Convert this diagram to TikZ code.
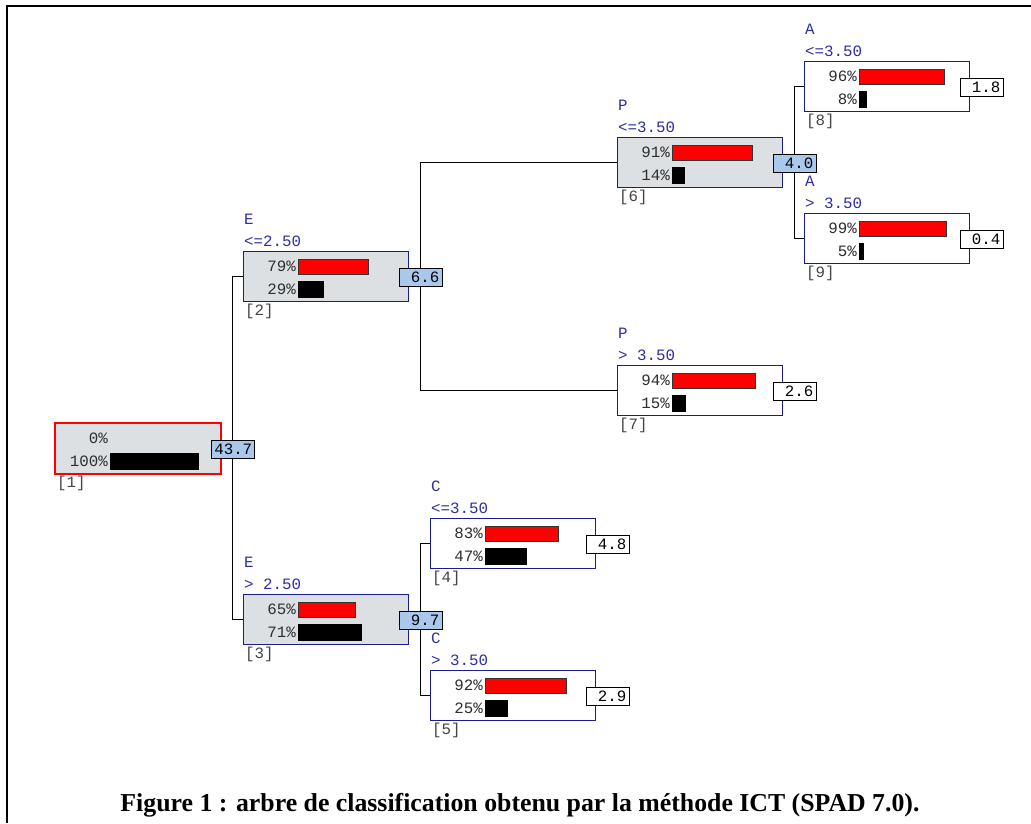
\documentclass[tikz,border=0pt]{standalone}
\usepackage{fontspec}
\setmainfont{Liberation Serif}
\newfontfamily\monof{Liberation Mono}
\usetikzlibrary{backgrounds}
\definecolor{boxgray}{HTML}{DDE0E3}
\definecolor{valblue}{HTML}{A9C8EC}
\definecolor{navy}{HTML}{1C1C8C}
\definecolor{condblue}{HTML}{2E2EA0}
\definecolor{txtgray}{HTML}{2E2E2E}
\definecolor{idgray}{HTML}{444444}
\definecolor{barred}{HTML}{FF0000}
\definecolor{boxred}{HTML}{FF0000}
\tikzset{
  mono/.style={font=\monof\fontsize{15.8}{18}\selectfont, inner sep=0pt},
  tbox/.style={line width=1.3pt, minimum width=165, minimum height=50, inner sep=0pt, anchor=north west},
  condtxt/.style={mono, text=condblue, anchor=base west},
  pcttxt/.style={mono, text=txtgray, anchor=base east},
  idtxt/.style={mono, text=idgray, anchor=base west},
  valbox/.style={mono, draw=black, line width=0.9pt, text width=37, align=right, inner xsep=3pt, inner ysep=0pt, minimum height=18, text=black},
  rbar/.style={fill=barred, draw=black!80, line width=0.7pt},
  kbar/.style={fill=black, draw=black, line width=0.5pt},
  conn/.style={draw=black, line width=1.3pt}
}
% name, x, y, fill, border, id
\newcommand\TBox[6]{%
  \node[tbox, fill=#4, draw=#5] (#1) at (#2,#3) {};
  \node[idtxt] (#1id) at ([shift={(2,13)}]#1.south west) {[#6]};
}
% name, var, cond
\newcommand\TCond[3]{%
  \node[condtxt] (#1var) at ([shift={(1,-27)}]#1.north west) {#2};
  \node[condtxt] (#1cond) at ([shift={(1,-5)}]#1.north west) {#3};
}
% name, p1, p2
\newcommand\TBars[3]{%
  \node[pcttxt] (#1pa) at ([shift={(53,20)}]#1.north west) {#2\%};
  \node[pcttxt] (#1pb) at ([shift={(53,43)}]#1.north west) {#3\%};
  \ifnum#2>0 \draw[rbar] ([shift={(55,8)}]#1.north west) rectangle ++({0.885*#2},15);\fi
  \draw[kbar] ([shift={(55,30)}]#1.north west) rectangle ++({0.885*#3},16);
}
% name, value, fill
\newcommand\TVal[3]{%
  \node[valbox, fill=#3] (#1v) at ([shift={(11.5,1)}]#1.east) {#2};
}
\begin{document}
\begin{tikzpicture}[x=1pt,y=-1pt]
\useasboundingbox (0,0) rectangle (1031,823);
\draw[line width=2.2pt] (7,823) -- (7,6) -- (1031,6);

\TBox{n1}{55}{423}{boxgray}{boxred}{1}
\draw[boxred, line width=1.6pt] (n1.north west) rectangle (n1.south east);
\TBars{n1}{0}{100}
\TVal{n1}{43.7}{valblue}

\TBox{n2}{243}{251}{boxgray}{navy}{2}
\TCond{n2}{E}{<=2.50}
\TBars{n2}{79}{29}
\TVal{n2}{6.6}{valblue}

\TBox{n3}{243}{594}{boxgray}{navy}{3}
\TCond{n3}{E}{> 2.50}
\TBars{n3}{65}{71}
\TVal{n3}{9.7}{valblue}

\TBox{n4}{430}{518}{white}{navy}{4}
\TCond{n4}{C}{<=3.50}
\TBars{n4}{83}{47}
\TVal{n4}{4.8}{white}

\TBox{n5}{430}{670}{white}{navy}{5}
\TCond{n5}{C}{> 3.50}
\TBars{n5}{92}{25}
\TVal{n5}{2.9}{white}

\TBox{n6}{617}{137}{boxgray}{navy}{6}
\TCond{n6}{P}{<=3.50}
\TBars{n6}{91}{14}
\TVal{n6}{4.0}{valblue}

\TBox{n7}{617}{365}{white}{navy}{7}
\TCond{n7}{P}{> 3.50}
\TBars{n7}{94}{15}
\TVal{n7}{2.6}{white}

\TBox{n8}{804}{61}{white}{navy}{8}
\TCond{n8}{A}{<=3.50}
\TBars{n8}{96}{8}
\TVal{n8}{1.8}{white}

\TBox{n9}{804}{213}{white}{navy}{9}
\TCond{n9}{A}{> 3.50}
\TBars{n9}{99}{5}
\TVal{n9}{0.4}{white}

\begin{scope}[on background layer]
\draw[conn] (n1v.center) |- (n2.west);
\draw[conn] (n1v.center) |- (n3.west);
\draw[conn] (n2v.center) |- (n6.west);
\draw[conn] (n2v.center) |- (n7.west);
\draw[conn] (n3v.center) |- (n4.west);
\draw[conn] (n3v.center) |- (n5.west);
\draw[conn] (n6v.center) |- (n8.west);
\draw[conn] (n6v.center) |- (n9.west);
\end{scope}

\node[font=\bfseries\fontsize{25.8}{30}\selectfont, anchor=base, inner sep=0pt] (cap) at (520,811) {Figure 1 : arbre de classification obtenu par la méthode ICT (SPAD 7.0).};
\end{tikzpicture}
\end{document}
